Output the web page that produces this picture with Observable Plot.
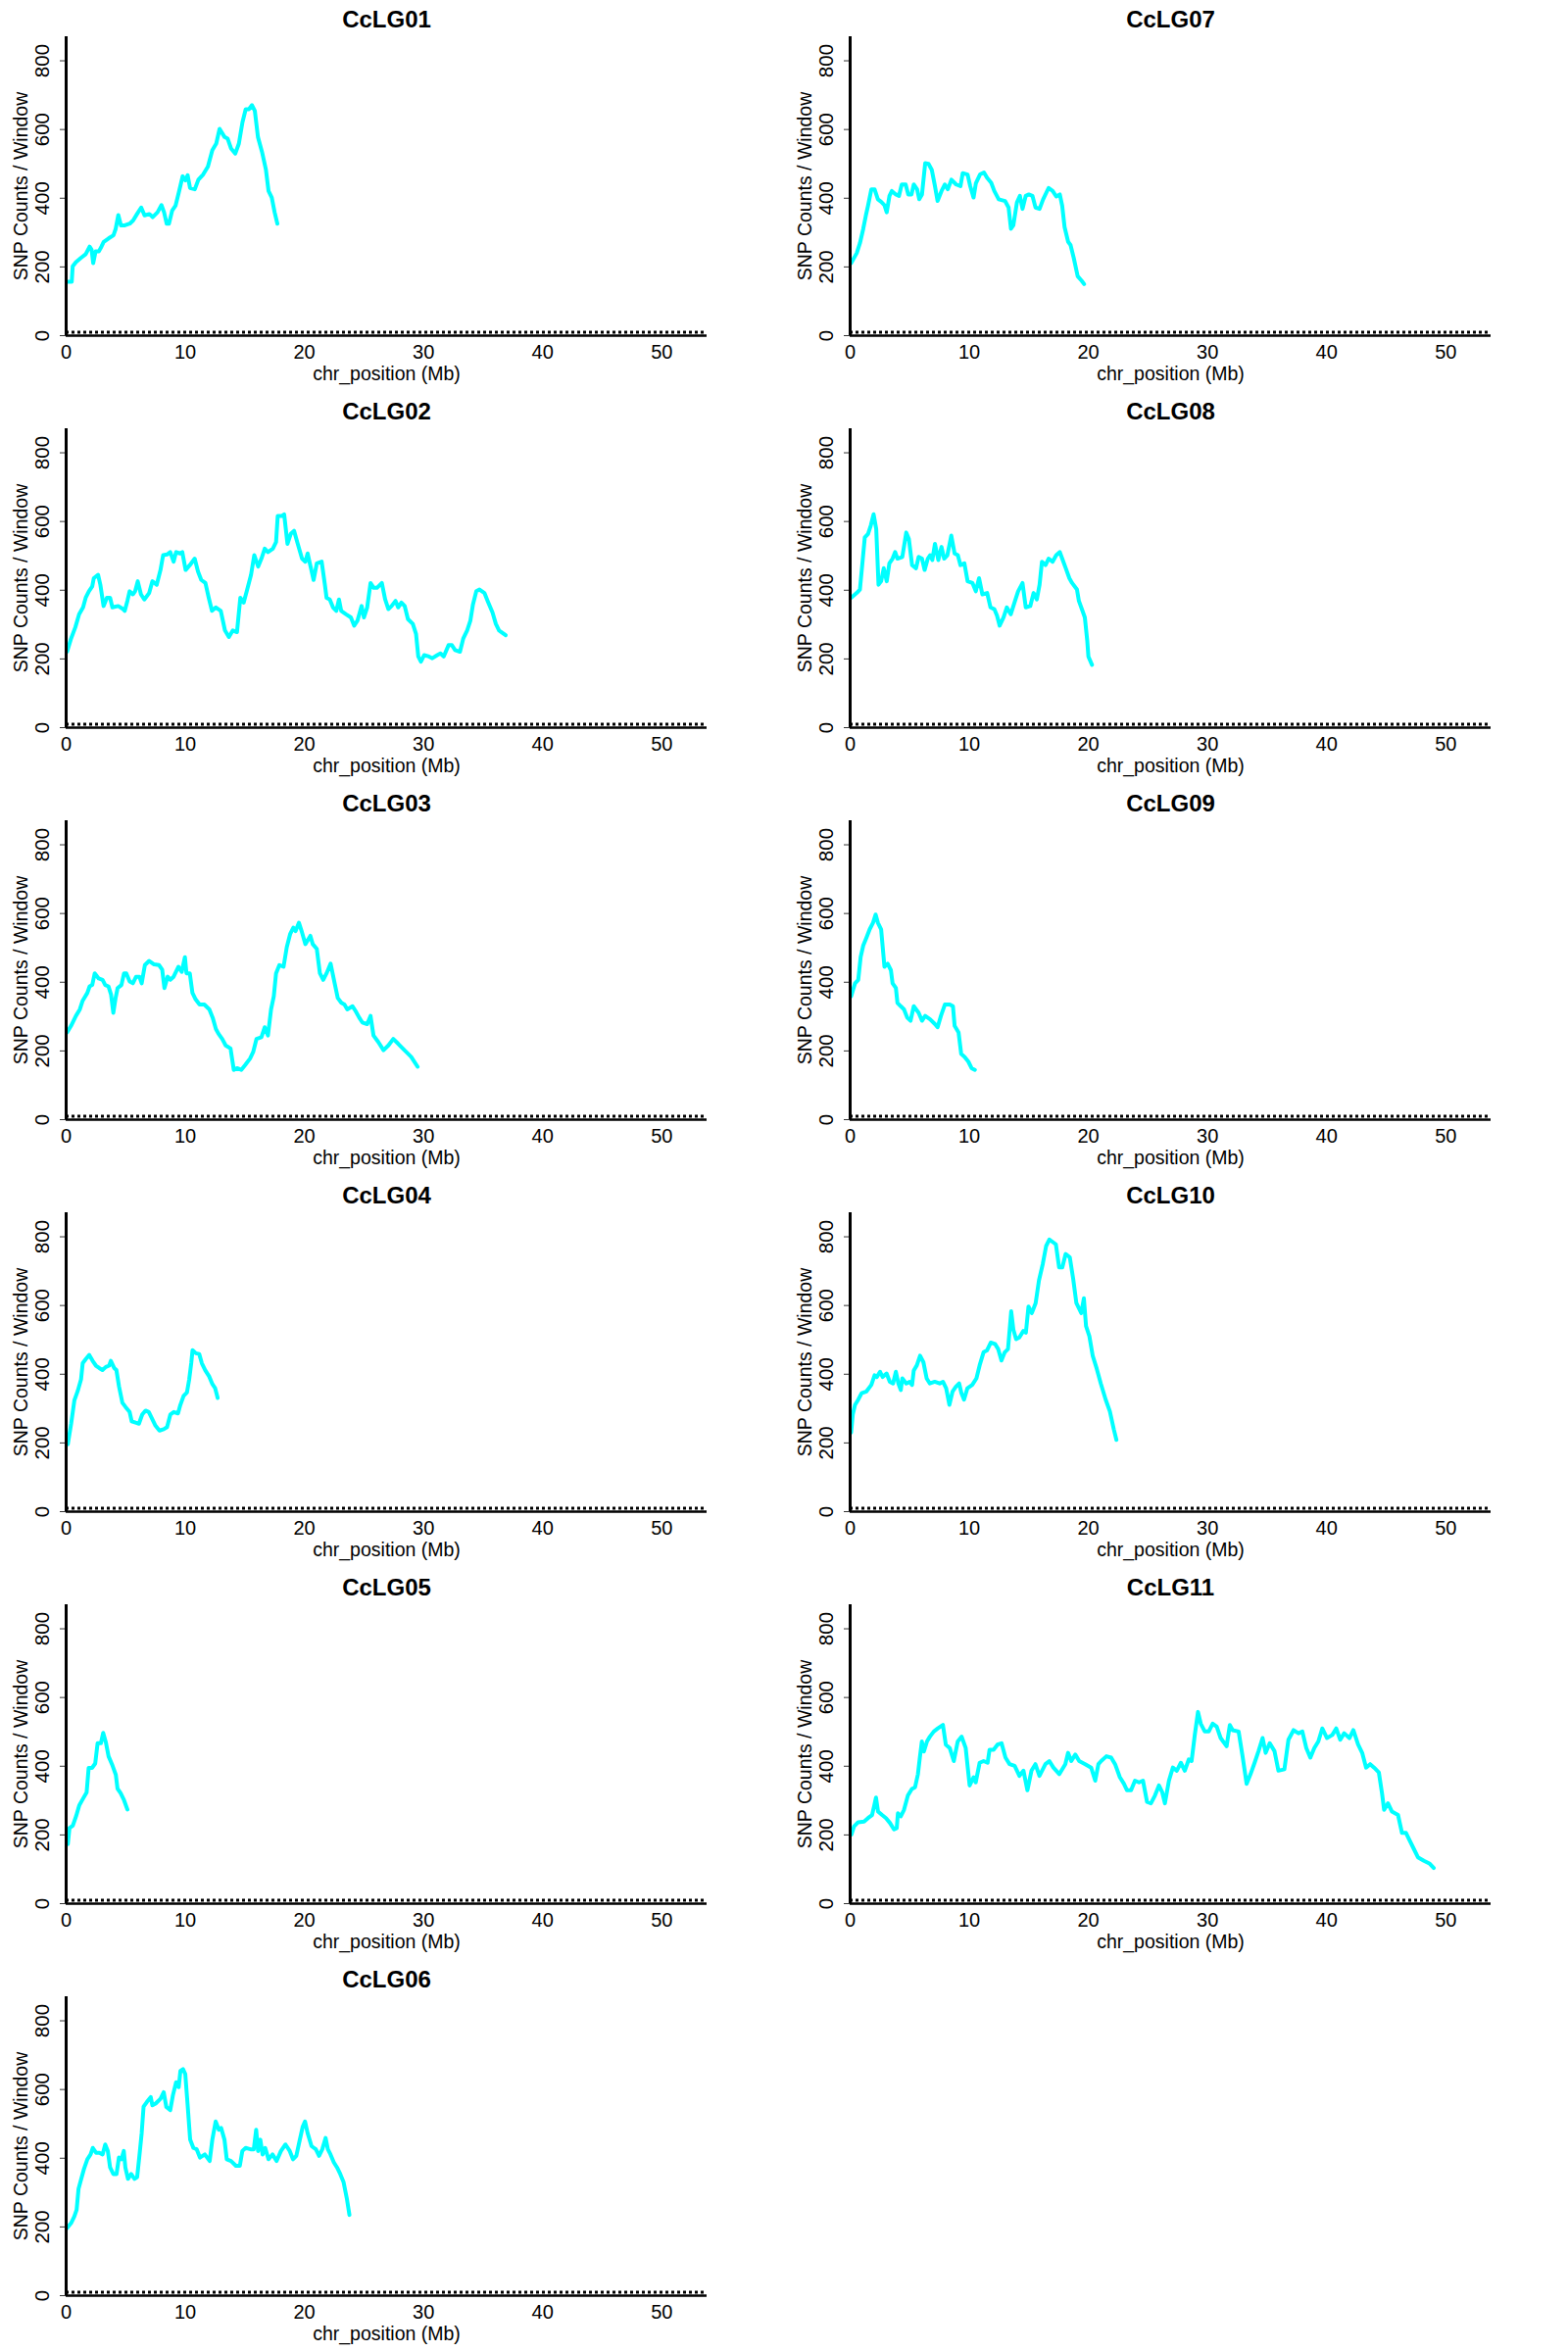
<!DOCTYPE html>
<html><head><meta charset="utf-8">
<script src="https://cdn.jsdelivr.net/npm/d3@7"></script>
<script src="https://cdn.jsdelivr.net/npm/@observablehq/plot@0.6"></script>
<style>
body{margin:0;background:#fff;}
#grid{display:grid;grid-template-columns:800px 800px;grid-auto-rows:400px;width:1600px;}
#grid svg{display:block;}
</style></head><body><div id="grid"></div>
<script>
// panel order (row-major, two columns)
const panelOrder = ["CcLG01","CcLG07","CcLG02","CcLG08","CcLG03","CcLG09","CcLG04","CcLG10","CcLG05","CcLG11","CcLG06"];
const xTicks = [0,10,20,30,40,50];
const yTicks = [0,200,400,600,800];
const xLabel = "chr_position (Mb)";
const yLabel = "SNP Counts / Window";
const xMax = 53.8, yMax = 870;

// [position (Mb), SNP count per window]
const CcLG01 = [[0.14,157],[0.47,157],[0.55,202],[0.82,214],[1.23,226],[1.64,237],[1.97,259],[2.14,250],[2.27,211],[2.47,245],[2.74,245],[2.96,259],[3.15,273],[3.56,283],[3.97,292],[4.16,311],[4.38,351],[4.6,321],[4.93,321],[5.34,326],[5.62,335],[5.95,354],[6.3,373],[6.58,350],[6.99,354],[7.26,345],[7.67,359],[8.0,380],[8.22,359],[8.44,326],[8.63,326],[8.9,364],[9.18,378],[9.45,416],[9.78,464],[10.0,452],[10.2,467],[10.4,430],[10.8,426],[11.1,454],[11.5,469],[11.9,492],[12.27,540],[12.6,559],[12.88,602],[13.3,578],[13.56,573],[13.84,545],[14.2,530],[14.5,559],[14.8,621],[15.07,659],[15.34,659],[15.6,671],[15.84,654],[16.1,578],[16.44,535],[16.77,483],[16.99,421],[17.26,402],[17.5,359],[17.73,326]];
const CcLG07 = [[0.08,211],[0.55,240],[0.82,269],[1.1,311],[1.32,350],[1.5,378],[1.78,426],[2.05,426],[2.33,397],[2.6,390],[2.88,380],[3.07,359],[3.3,407],[3.5,421],[3.84,411],[4.1,407],[4.33,440],[4.66,440],[4.88,411],[5.15,411],[5.34,440],[5.62,426],[5.8,397],[6.03,411],[6.3,502],[6.58,500],[6.85,483],[7.12,435],[7.34,392],[7.67,421],[7.95,440],[8.2,426],[8.5,454],[8.9,440],[9.26,435],[9.45,473],[9.86,469],[10.08,435],[10.36,402],[10.55,443],[10.9,469],[11.23,475],[11.5,459],[11.84,445],[12.1,421],[12.47,397],[13.0,392],[13.3,373],[13.5,311],[13.7,321],[14.0,388],[14.25,407],[14.47,369],[14.74,407],[15.0,411],[15.3,407],[15.56,373],[15.9,369],[16.2,397],[16.66,430],[17.0,421],[17.3,405],[17.6,411],[17.8,378],[18.0,316],[18.3,273],[18.5,264],[18.77,226],[19.1,173],[19.45,159],[19.64,150]];
const CcLG02 = [[0.08,221],[0.41,259],[0.77,292],[1.09,330],[1.42,350],[1.64,378],[1.91,397],[2.19,411],[2.32,435],[2.68,445],[2.87,416],[3.14,354],[3.42,378],[3.69,378],[3.88,350],[4.37,354],[4.78,345],[4.92,340],[5.14,369],[5.33,397],[5.6,388],[5.79,397],[6.01,426],[6.28,388],[6.56,373],[6.97,392],[7.24,426],[7.6,416],[7.92,459],[8.14,502],[8.47,504],[8.74,511],[9.02,483],[9.23,511],[9.56,507],[9.75,511],[10.03,459],[10.38,473],[10.79,492],[11.07,454],[11.34,430],[11.69,421],[11.97,378],[12.24,340],[12.57,350],[12.98,340],[13.33,283],[13.66,264],[13.99,283],[14.34,278],[14.62,378],[14.9,364],[15.16,397],[15.52,445],[15.79,502],[16.12,469],[16.39,492],[16.67,521],[16.94,511],[17.35,521],[17.62,540],[17.76,616],[18.09,616],[18.3,621],[18.58,535],[18.85,564],[19.13,573],[19.4,540],[19.8,492],[20.08,483],[20.27,507],[20.55,464],[20.77,430],[21.04,478],[21.45,483],[21.72,416],[21.86,378],[22.13,373],[22.4,350],[22.68,340],[22.9,373],[23.09,340],[23.5,330],[23.9,321],[24.18,297],[24.45,311],[24.8,354],[25.0,321],[25.27,350],[25.55,421],[25.82,407],[26.09,407],[26.5,421],[26.78,373],[27.05,345],[27.32,354],[27.65,369],[27.87,350],[28.14,364],[28.42,354],[28.69,316],[29.1,302],[29.37,273],[29.56,207],[29.78,192],[30.05,211],[30.46,207],[30.74,202],[31.15,211],[31.42,216],[31.69,207],[32.1,240],[32.38,240],[32.65,226],[33.06,221],[33.33,259],[33.66,283],[33.93,311],[34.15,359],[34.43,397],[34.7,402],[35.11,392],[35.38,369],[35.79,335],[36.07,302],[36.34,283],[36.89,269]];
const CcLG08 = [[0.08,378],[0.55,392],[0.82,402],[1.04,483],[1.23,554],[1.5,564],[1.73,588],[1.97,621],[2.19,578],[2.38,416],[2.6,426],[2.82,464],[3.07,426],[3.29,478],[3.56,492],[3.78,511],[3.97,492],[4.38,497],[4.71,568],[4.93,549],[5.2,473],[5.53,464],[5.75,497],[6.03,492],[6.25,459],[6.52,492],[6.71,502],[6.9,488],[7.12,535],[7.4,488],[7.67,526],[7.89,492],[8.16,502],[8.49,559],[8.77,507],[9.04,502],[9.26,473],[9.59,478],[9.86,426],[10.27,421],[10.55,397],[10.82,435],[11.1,388],[11.5,392],[11.78,350],[12.1,345],[12.33,326],[12.55,297],[12.88,321],[13.15,350],[13.48,330],[13.84,369],[14.1,397],[14.47,421],[14.74,350],[15.12,354],[15.4,392],[15.67,373],[15.9,416],[16.1,483],[16.4,473],[16.66,492],[16.99,483],[17.3,502],[17.6,511],[17.8,492],[18.1,464],[18.4,435],[18.63,421],[19.04,402],[19.2,369],[19.45,345],[19.7,321],[19.9,254],[20.0,207],[20.3,183]];
const CcLG03 = [[0.08,254],[0.41,273],[0.82,302],[1.15,321],[1.37,345],[1.78,369],[1.97,388],[2.19,392],[2.4,426],[2.73,411],[3.06,407],[3.28,392],[3.55,388],[3.77,364],[3.96,311],[4.15,354],[4.32,383],[4.64,392],[4.86,426],[5.05,426],[5.33,402],[5.6,397],[5.87,416],[6.15,416],[6.34,397],[6.61,450],[6.97,462],[7.38,452],[7.79,450],[8.06,437],[8.25,383],[8.52,416],[8.74,407],[9.02,416],[9.43,445],[9.7,430],[9.97,473],[10.1,426],[10.38,426],[10.6,369],[10.87,350],[11.2,335],[11.6,335],[12.02,321],[12.3,297],[12.57,264],[12.79,250],[13.1,235],[13.39,216],[13.8,207],[14.07,145],[14.34,150],[14.7,145],[15.03,159],[15.44,178],[15.7,197],[15.98,235],[16.39,240],[16.67,269],[16.94,245],[17.2,321],[17.43,359],[17.62,426],[17.9,450],[18.25,445],[18.52,502],[18.8,540],[19.07,559],[19.26,549],[19.54,573],[19.8,545],[20.08,511],[20.5,535],[20.7,511],[21.04,497],[21.3,426],[21.58,407],[21.86,426],[22.2,454],[22.54,397],[22.8,354],[23.1,340],[23.36,335],[23.6,321],[24.04,330],[24.3,316],[24.6,297],[24.86,283],[25.27,278],[25.55,302],[25.8,245],[26.2,226],[26.64,202],[27.05,216],[27.46,235],[27.87,221],[28.4,202],[28.96,183],[29.5,154]];
const CcLG09 = [[0.08,359],[0.41,397],[0.68,407],[0.88,473],[1.1,507],[1.37,530],[1.64,554],[1.92,573],[2.14,597],[2.33,573],[2.6,554],[2.88,445],[3.15,454],[3.42,435],[3.56,397],[3.84,383],[3.97,340],[4.25,330],[4.52,321],[4.79,297],[5.07,288],[5.34,330],[5.75,311],[6.03,288],[6.3,302],[6.71,292],[7.12,278],[7.34,269],[7.62,302],[7.95,335],[8.36,335],[8.63,330],[8.77,273],[9.1,254],[9.32,192],[9.59,183],[9.92,169],[10.19,150],[10.47,145]];
const CcLG04 = [[0.14,196],[0.42,256],[0.69,324],[0.97,351],[1.25,385],[1.39,432],[1.67,445],[1.94,456],[2.22,439],[2.5,425],[2.78,418],[3.05,412],[3.33,421],[3.61,425],[3.75,439],[4.03,418],[4.22,412],[4.44,364],[4.72,317],[5.0,304],[5.33,290],[5.5,263],[5.83,259],[6.11,256],[6.39,283],[6.67,294],[6.94,290],[7.22,270],[7.5,250],[7.83,236],[8.19,240],[8.47,246],[8.75,283],[9.03,290],[9.39,286],[9.58,310],[9.86,337],[10.14,347],[10.33,385],[10.5,432],[10.61,470],[10.89,461],[11.17,459],[11.39,432],[11.67,412],[12.0,394],[12.28,371],[12.5,360],[12.72,331]];
const CcLG10 = [[0.08,230],[0.22,283],[0.41,311],[0.68,326],[0.96,345],[1.37,350],[1.78,369],[2.05,397],[2.24,392],[2.51,407],[2.73,392],[3.06,402],[3.33,378],[3.6,373],[3.84,407],[4.05,373],[4.25,354],[4.38,388],[4.71,373],[4.99,378],[5.2,369],[5.34,411],[5.6,426],[5.87,454],[6.15,435],[6.42,388],[6.69,373],[7.1,378],[7.51,373],[7.79,378],[8.06,359],[8.33,311],[8.6,350],[8.88,364],[9.15,373],[9.34,345],[9.56,326],[9.84,359],[10.25,369],[10.6,388],[10.87,426],[11.2,464],[11.48,469],[11.8,492],[12.16,488],[12.43,473],[12.7,440],[12.98,464],[13.25,473],[13.52,583],[13.7,530],[13.93,502],[14.2,507],[14.54,526],[14.75,521],[14.97,597],[15.25,578],[15.57,607],[15.85,673],[16.17,721],[16.45,773],[16.72,792],[17.08,783],[17.27,778],[17.54,711],[17.81,711],[18.09,750],[18.44,740],[18.72,678],[18.99,607],[19.4,578],[19.62,621],[19.8,540],[20.08,511],[20.36,454],[20.7,416],[21.04,373],[21.45,326],[21.8,292],[22.13,240],[22.35,209]];
const CcLG05 = [[0.14,173],[0.28,220],[0.56,227],[0.83,254],[1.11,287],[1.44,307],[1.72,324],[1.89,395],[2.17,395],[2.44,408],[2.64,467],[2.92,467],[3.11,497],[3.33,470],[3.56,429],[3.89,402],[4.17,375],[4.31,335],[4.58,321],[4.86,301],[5.14,274]];
const CcLG11 = [[0.1,201],[0.33,225],[0.67,237],[1.17,239],[1.5,249],[1.84,258],[2.0,282],[2.17,309],[2.34,268],[2.68,258],[3.01,249],[3.34,235],[3.68,216],[3.91,220],[4.01,263],[4.25,254],[4.52,273],[4.85,315],[5.18,334],[5.45,339],[5.69,377],[5.85,425],[6.02,472],[6.19,443],[6.45,472],[6.69,486],[7.02,501],[7.36,510],[7.79,520],[8.03,463],[8.36,453],[8.7,415],[9.03,472],[9.36,486],[9.7,453],[10.03,344],[10.37,368],[10.54,353],[10.87,410],[11.2,415],[11.54,410],[11.7,448],[12.04,448],[12.37,463],[12.71,467],[13.04,425],[13.38,406],[13.81,401],[14.21,372],[14.55,387],[14.88,330],[15.22,387],[15.55,406],[15.89,372],[16.39,406],[16.72,415],[17.06,396],[17.56,377],[18.06,406],[18.29,439],[18.56,415],[18.9,434],[19.23,415],[19.73,406],[20.23,396],[20.57,358],[20.84,406],[21.07,415],[21.51,429],[21.91,425],[22.24,406],[22.64,368],[22.98,349],[23.24,330],[23.58,330],[23.91,358],[24.25,353],[24.58,358],[24.92,296],[25.25,292],[25.59,315],[25.92,344],[26.19,325],[26.42,292],[26.76,358],[27.09,396],[27.42,387],[27.76,410],[28.09,387],[28.43,420],[28.66,415],[28.93,491],[29.2,558],[29.43,524],[29.77,501],[30.1,501],[30.43,524],[30.77,515],[31.1,482],[31.6,458],[31.87,520],[32.11,505],[32.61,501],[32.94,429],[33.28,349],[33.61,377],[33.95,410],[34.28,444],[34.62,482],[34.88,439],[35.22,467],[35.62,444],[35.95,387],[36.45,391],[36.79,477],[37.22,505],[37.63,496],[37.96,501],[38.29,453],[38.63,425],[38.96,453],[39.3,472],[39.63,510],[40.03,482],[40.47,491],[40.8,510],[41.14,477],[41.47,496],[41.91,482],[42.24,505],[42.64,463],[42.98,439],[43.31,396],[43.65,406],[43.98,396],[44.38,382],[44.65,320],[44.82,273],[45.15,292],[45.48,268],[45.99,258],[46.32,206],[46.66,206],[46.99,182],[47.32,159],[47.66,135],[48.16,125],[48.66,116],[48.99,104]];
const CcLG06 = [[0.08,197],[0.41,211],[0.68,230],[0.88,250],[1.04,311],[1.23,335],[1.5,369],[1.78,397],[2.05,411],[2.24,430],[2.51,416],[2.79,416],[3.06,411],[3.28,440],[3.5,421],[3.69,373],[3.96,354],[4.23,354],[4.43,402],[4.64,397],[4.84,421],[4.97,373],[5.19,340],[5.46,354],[5.74,340],[5.96,345],[6.15,407],[6.34,473],[6.5,550],[6.78,564],[7.1,578],[7.24,554],[7.51,559],[7.92,573],[8.19,592],[8.41,549],[8.74,540],[8.96,583],[9.23,621],[9.45,607],[9.59,654],[9.81,659],[10.0,645],[10.19,559],[10.41,454],[10.68,430],[10.96,426],[11.23,402],[11.64,411],[12.05,392],[12.27,454],[12.55,507],[12.82,483],[13.01,488],[13.29,454],[13.48,397],[13.84,392],[14.25,378],[14.58,378],[14.79,421],[15.07,430],[15.48,426],[15.75,426],[15.95,483],[16.11,421],[16.3,454],[16.49,411],[16.71,430],[16.99,397],[17.32,411],[17.67,392],[18.03,421],[18.41,440],[18.77,421],[19.04,397],[19.32,407],[19.59,450],[19.86,492],[20.05,507],[20.27,473],[20.6,435],[20.96,426],[21.23,407],[21.5,426],[21.78,459],[21.97,426],[22.19,411],[22.47,388],[22.74,373],[23.01,354],[23.29,330],[23.56,283],[23.78,235]];

const series = {CcLG01, CcLG02, CcLG03, CcLG04, CcLG05, CcLG06, CcLG07, CcLG08, CcLG09, CcLG10, CcLG11};
const grid = document.getElementById("grid");

for (const name of panelOrder) {
  const data = series[name].map(([mb, snp]) => ({mb, snp}));
  const chart = Plot.plot({
    width: 800, height: 400,
    marginLeft: 67, marginRight: 79, marginTop: 37, marginBottom: 58,
    style: {fontFamily: "'Liberation Sans', Arial, Helvetica, sans-serif", background: "#fff", color: "#000", overflow: "visible"},
    x: {domain: [0, xMax]},
    y: {domain: [0, yMax]},
    marks: [
      Plot.axisX({ticks: xTicks, tickSize: 0, tickPadding: 9, fontSize: 20, label: null}),
      Plot.axisY({ticks: yTicks, tickSize: 6, tickPadding: 12, tickRotate: -90, fontSize: 20.5, label: null, stroke: "#333"}),
      Plot.line(data, {x: "mb", y: "snp", stroke: "#00FFFF", strokeWidth: 4, strokeLinejoin: "round", strokeLinecap: "round"}),
      Plot.ruleY([0], {strokeWidth: 2.5, stroke: "#000"}),
      Plot.ruleY([0], {dy: -3.5, strokeWidth: 3, strokeDasharray: "3 3", stroke: "#000"}),
      Plot.ruleX([0], {strokeWidth: 3, stroke: "#000"}),
      Plot.text([name], {text: d => d, frameAnchor: "top", dy: -27, fontSize: 24, fontWeight: "bold"}),
      Plot.text([xLabel], {text: d => d, frameAnchor: "bottom", dy: 45, fontSize: 19.5}),
      Plot.text([yLabel], {text: d => d, frameAnchor: "left", textAnchor: "middle", dx: -46, rotate: -90, fontSize: 19.5})
    ]
  });
  grid.append(chart);
}
</script></body></html>
